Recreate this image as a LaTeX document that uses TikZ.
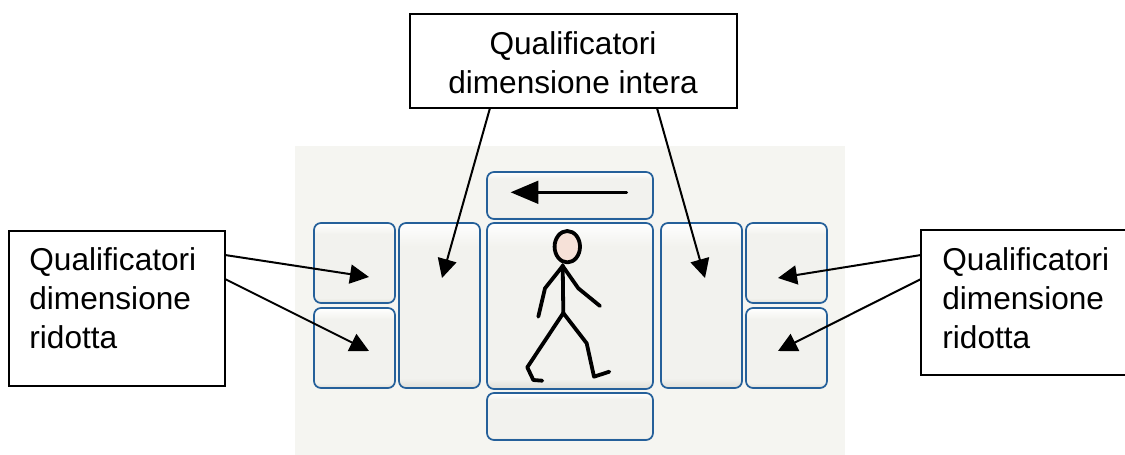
\documentclass[tikz,border=0pt]{standalone}
\usepackage{fontspec}
\setmainfont{Liberation Sans}
\usetikzlibrary{arrows.meta}

\definecolor{panelgrey}{HTML}{F5F5F1}
\definecolor{btnblue}{HTML}{25609A}
\definecolor{btngrey}{HTML}{F2F2EE}
\definecolor{btnlow}{HTML}{DEDED8}
\definecolor{headpink}{HTML}{F6E1D8}
% a shading fits its middle part (25bp to 75bp) to the node
\pgfdeclareverticalshading{btnshade}{100bp}{
    color(0bp)=(btnlow);
    color(25bp)=(btnlow);
    color(28bp)=(btngrey);
    color(68bp)=(btngrey);
    color(75bp)=(white);
    color(100bp)=(white)}

\tikzset{
    btn/.style={draw=btnblue, line width=0.85pt, rounded corners=3.5pt, shading=btnshade,
        inner sep=0, outer sep=0, anchor=north west},
    qualbox/.style={draw, line width=1pt, fill=white, inner sep=0, outer sep=0, anchor=north west},
    qualtext/.style={align=left, font=\fontsize{15.8}{19.6}\selectfont, inner sep=0, anchor=north west},
    callout/.style={-{Triangle[length=9.5pt,width=9.5pt]}, line width=1pt},
    figline/.style={line width=1.9pt, line join=round, line cap=round},
}

\begin{document}
\begin{tikzpicture}[x=0.5pt,y=-0.5pt]

\useasboundingbox (0,0) rectangle (1125,455);

\fill[panelgrey] (295,146) rectangle (845,455);

% buttons of the symbol
\foreach \name/\x/\y/\w/\h in {
    sxup/314/223/81/80,
    sxdown/314/308/81/80,
    sxwide/399/223/81/165,
    top/487/172/166/47,
    centre/487/223/166/166,
    bottom/487/393/166/47,
    dxwide/661/223/81/165,
    dxup/746/223/81/80,
    dxdown/746/308/81/80%
} {
    \node[btn, minimum width=\w*0.5pt, minimum height=\h*0.5pt] (\name) at (\x,\y) {};
}

% arrow on the top button
\draw[line width=1.35pt, line cap=round] (626.7,192.3) -- (535,192.3);
\fill (510.7,192.3) -- (538.3,180.6) -- (538.3,204) -- cycle;

% walking man
\draw[figline, fill=headpink] (567.3,246.7) ellipse (12.7 and 15.7);
\draw[figline] (562.7,265) -- (563.3,313);
\draw[figline] (538.3,316.7) -- (545,288.3) -- (562.7,266) -- (578.3,288.3) -- (600,306);
\draw[figline] (542.3,380.7) -- (533.3,380) -- (527.3,367.3) -- (563.3,313)
    -- (586.7,343.3) -- (594,376.7) -- (609.3,371.7);

% text boxes
\node[qualbox, minimum width=108pt, minimum height=77.5pt] (sxbox) at (9,231) {};
\node[qualtext] (sxtext) at (29,247) {Qualificatori\\dimensione\\ridotta};
\node[qualbox, minimum width=105pt, minimum height=72.5pt] (dxbox) at (921,230) {};
\node[qualtext] (dxtext) at (942,247) {Qualificatori\\dimensione\\ridotta};
\node[qualbox, minimum width=163.5pt, minimum height=47pt] (topbox) at (410,14) {};
\node[qualtext, align=center, anchor=north] (toptext) at (573,31) {Qualificatori\\dimensione intera};

% arrow ends
\coordinate (sxuptip) at (369,277);
\coordinate (sxdowntip) at (369,351);
\coordinate (sxwidetip) at (442,278);
\coordinate (dxwidetip) at (705,278);
\coordinate (dxuptip) at (778,278);
\coordinate (dxdowntip) at (778,351);

\draw[callout] ([yshift=-12pt]sxbox.north east) -- (sxuptip);
\draw[callout] ([yshift=-24pt]sxbox.north east) -- (sxdowntip);
\draw[callout] ([xshift=40pt]topbox.south west) -- (sxwidetip);
\draw[callout] ([xshift=123.5pt]topbox.south west) -- (dxwidetip);
\draw[callout] ([yshift=-12.5pt]dxbox.north west) -- (dxuptip);
\draw[callout] ([yshift=-24.5pt]dxbox.north west) -- (dxdowntip);

\end{tikzpicture}
\end{document}
